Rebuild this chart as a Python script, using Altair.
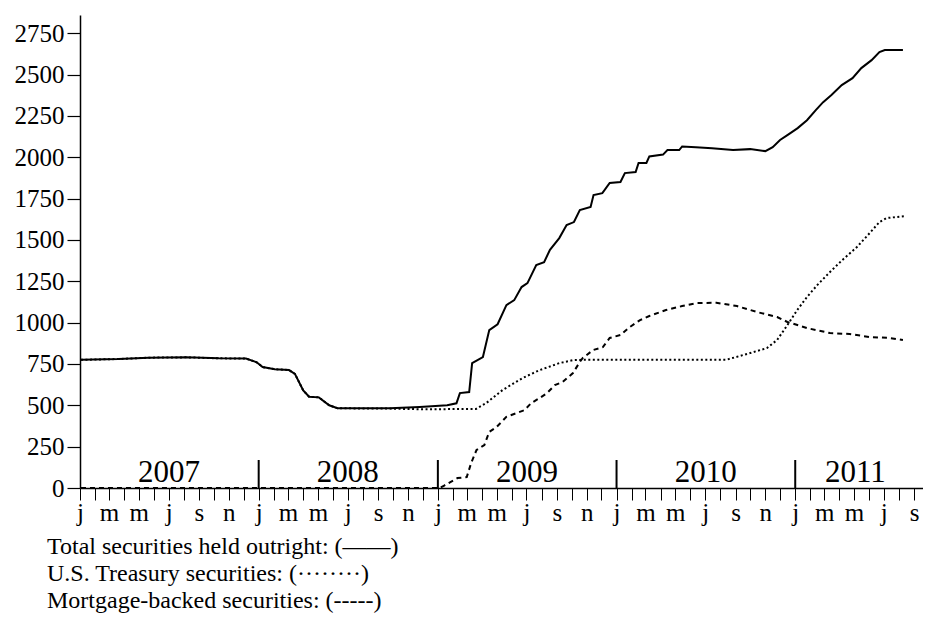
import json
import altair as alt
import pandas as pd

# ---------------- data (billions of dollars) ----------------
total_dates = [
    "2007-01-03", "2007-03-21", "2007-05-21", "2007-08-06", "2007-10-12", "2007-12-06",
    "2007-12-28", "2008-01-09", "2008-02-03", "2008-03-03", "2008-03-15", "2008-04-01",
    "2008-04-13", "2008-05-03", "2008-05-24", "2008-06-10", "2008-09-25", "2008-11-25",
    "2009-01-20", "2009-02-08", "2009-02-15", "2009-03-06", "2009-03-12", "2009-04-03",
    "2009-04-16", "2009-05-03", "2009-05-21", "2009-06-06", "2009-06-21", "2009-07-03",
    "2009-07-21", "2009-08-06", "2009-08-18", "2009-09-06", "2009-09-21", "2009-10-06",
    "2009-10-18", "2009-11-09", "2009-11-15", "2009-12-03", "2009-12-18", "2010-01-09",
    "2010-01-18", "2010-02-09", "2010-02-15", "2010-03-03", "2010-03-09", "2010-04-06",
    "2010-04-15", "2010-05-09", "2010-05-15", "2010-06-12", "2010-07-15", "2010-08-27",
    "2010-10-01", "2010-11-01", "2010-11-16", "2010-12-01", "2010-12-16", "2011-01-06",
    "2011-01-25", "2011-02-12", "2011-02-27", "2011-03-16", "2011-04-06", "2011-04-28",
    "2011-05-16", "2011-06-06", "2011-06-22", "2011-07-03", "2011-08-09",
]
total_values = [
    775, 780, 788, 790, 784, 783,
    760, 731, 718, 713, 690, 590,
    552, 548, 500, 482, 482, 490,
    500, 512, 574, 580, 755, 792,
    955, 990, 1106, 1136, 1215, 1239,
    1348, 1366, 1440, 1511, 1590, 1608,
    1680, 1699, 1771, 1783, 1844, 1850,
    1904, 1910, 1965, 1965, 2005, 2016,
    2043, 2043, 2065, 2061, 2055, 2043,
    2049, 2037, 2061, 2104, 2134, 2176,
    2224, 2285, 2333, 2376, 2436, 2478,
    2539, 2587, 2636, 2648, 2648,
]

treasury_dates = [
    "2007-01-03", "2007-03-21", "2007-05-21", "2007-08-06", "2007-10-12", "2007-12-06",
    "2007-12-28", "2008-01-09", "2008-02-03", "2008-03-03", "2008-03-15", "2008-04-01",
    "2008-04-13", "2008-05-03", "2008-05-24", "2008-06-10", "2008-09-25", "2008-12-01",
    "2009-03-20", "2009-04-10", "2009-05-13", "2009-06-23", "2009-07-28", "2009-09-06",
    "2009-10-04", "2009-11-02", "2010-08-14", "2010-08-26", "2010-10-01", "2010-11-04",
    "2010-11-25", "2010-12-16", "2011-01-05", "2011-01-25", "2011-02-15", "2011-03-13",
    "2011-04-07", "2011-05-07", "2011-06-02", "2011-06-22", "2011-07-06", "2011-08-12",
]
treasury_values = [
    775, 780, 788, 790, 784, 783,
    760, 731, 718, 713, 690, 590,
    552, 548, 500, 482, 480, 476,
    478, 514, 592, 665, 713, 755,
    773, 776, 776, 786, 816, 846,
    895, 985, 1076, 1155, 1227, 1306,
    1378, 1457, 1541, 1608, 1632, 1644,
]

mbs_dates = [
    "2007-01-03", "2009-01-05", "2009-01-14", "2009-02-10", "2009-03-01", "2009-03-10",
    "2009-03-21", "2009-04-06", "2009-04-16", "2009-05-01", "2009-05-21", "2009-06-11",
    "2009-06-27", "2009-07-11", "2009-07-28", "2009-08-12", "2009-08-28", "2009-09-13",
    "2009-10-04", "2009-10-18", "2009-10-24", "2009-11-14", "2009-12-04", "2009-12-18",
    "2010-01-09", "2010-01-28", "2010-02-18", "2010-03-09", "2010-04-12", "2010-05-15",
    "2010-06-13", "2010-07-24", "2010-09-04", "2010-10-15", "2010-11-25", "2010-12-16",
    "2011-01-25", "2011-03-13", "2011-04-22", "2011-06-02", "2011-07-13", "2011-08-09",
]
mbs_values = [
    0, 0, 15, 60, 66, 151,
    230, 260, 339, 369, 430, 453,
    471, 514, 544, 574, 622, 641,
    695, 762, 786, 834, 852, 907,
    925, 973, 1015, 1040, 1076, 1100,
    1118, 1120, 1100, 1064, 1034, 1004,
    967, 937, 931, 913, 907, 895,
]

years = ["2007", "2008", "2009", "2010", "2011"]
year_label_dates = ["2007-07-02", "2008-07-01", "2009-07-02", "2010-07-02", "2011-05-04"]
year_break_dates = ["2008-01-01", "2009-01-01", "2010-01-01", "2011-01-01"]

month_letters = ["j", "", "m", "", "m", "", "j", "", "s", "", "n", ""]
y_ticks = [0, 250, 500, 750, 1000, 1250, 1500, 1750, 2000, 2250, 2500, 2750]

legend_labels = [
    "Total securities held outright: (\u2014\u2014)",
    "U.S. Treasury securities: (\u00b7\u00b7\u00b7\u00b7\u00b7\u00b7\u00b7\u00b7)",
    "Mortgage-backed securities: (-----)",
]

FONT = "Liberation Serif"

# ---------------- chart ----------------
month_ticks = [
    alt.DateTime(year=y, month=m, date=1, utc=True)
    for y in range(2007, 2012) for m in range(1, 13)
    if not (y == 2011 and m > 9)
]

x_scale = alt.Scale(
    type="utc",
    domain=[alt.DateTime(year=2007, month=1, date=1, utc=True),
            alt.DateTime(year=2011, month=9, date=19, utc=True)],
)
y_scale = alt.Scale(domain=[0, 2860], nice=False)

x_axis = alt.Axis(
    values=month_ticks,
    labelExpr=json.dumps(month_letters) + "[utcmonth(datum.value)]",
    tickSize=12, tickColor="black", tickWidth=1,
    domainColor="black", domainWidth=1.5,
    labelFont=FONT, labelFontSize=25, labelColor="black",
    labelPadding=0, labelOverlap=False, labelFlush=False,
    grid=False, title=None,
)
y_axis = alt.Axis(
    values=y_ticks, format="d",
    tickSize=13, tickColor="black", tickWidth=1.2,
    domainColor="black", domainWidth=1.5,
    labelFont=FONT, labelFontSize=25, labelColor="black",
    labelPadding=3, labelOverlap=False, labelFlush=False,
    grid=False, title=None,
)

def series_df(dates, values):
    return pd.DataFrame({"date": dates, "value": values})

X = alt.X("date:T", scale=x_scale, axis=x_axis)
Y = alt.Y("value:Q", scale=y_scale, axis=y_axis)

treasury = alt.Chart(series_df(treasury_dates, treasury_values)).mark_line(
    color="black", strokeWidth=2, strokeDash=[2, 2.5]
).encode(x=X, y=Y)

mbs = alt.Chart(series_df(mbs_dates, mbs_values)).mark_line(
    color="black", strokeWidth=2, strokeDash=[5, 4]
).encode(x=X, y=Y)

total = alt.Chart(series_df(total_dates, total_values)).mark_line(
    color="black", strokeWidth=2
).encode(x=X, y=Y)

breaks = alt.Chart(pd.DataFrame({"date": year_break_dates})).mark_rule(
    color="black", strokeWidth=2
).encode(
    x=X,
    y=alt.value(445), y2=alt.value(473),
)

year_text = alt.Chart(pd.DataFrame({"date": year_label_dates, "year": years})).mark_text(
    font=FONT, fontSize=31, color="black", align="center", baseline="alphabetic"
).encode(
    x=X,
    y=alt.value(467),
    text="year:N",
)

legend_layers = []
for i, lab in enumerate(legend_labels):
    legend_layers.append(
        alt.Chart(pd.DataFrame({"t": [lab]})).mark_text(
            font=FONT, fontSize=24, color="black", align="left", baseline="alphabetic"
        ).encode(x=alt.value(-33), y=alt.value(539 + 27 * i), text="t:N")
    )

chart = alt.layer(treasury, mbs, total, breaks, year_text, *legend_layers).properties(
    width=843, height=473,
    autosize=alt.AutoSizeParams(type="none"),
    padding={"left": 72, "top": 7, "right": 0, "bottom": 136},
).configure_view(stroke=None)

chart.save("out.html", embed_options={"renderer": "svg", "actions": False})
